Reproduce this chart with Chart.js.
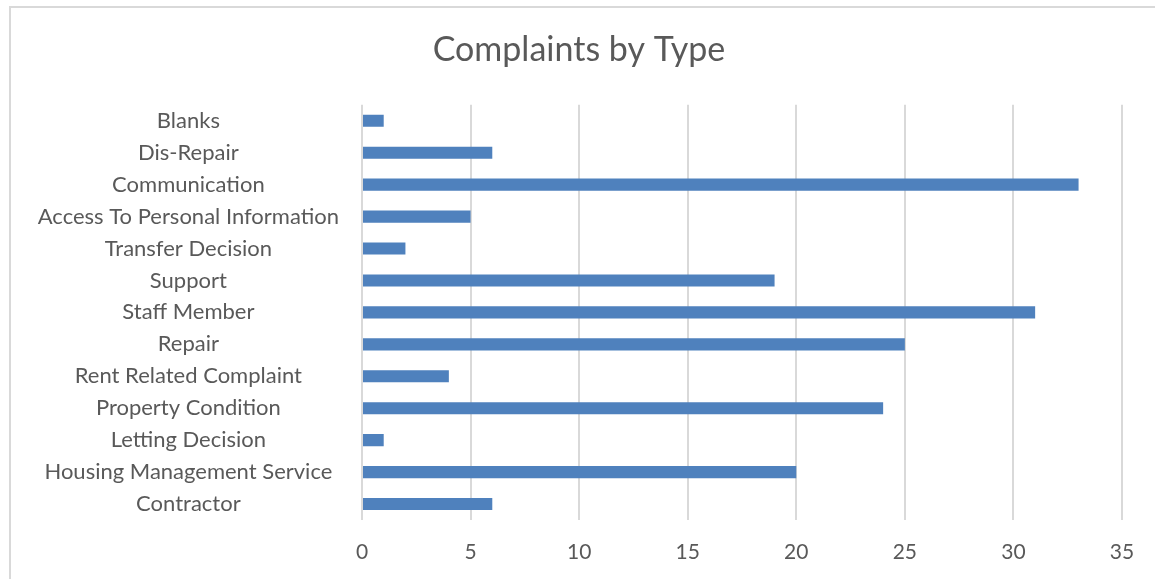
<!DOCTYPE html>
<html>
<head>
<meta charset="utf-8">
<script src="https://cdn.jsdelivr.net/npm/chart.js@4"></script>
<style>
  body { margin: 0; background: #fff; }
  #wrap { position: relative; width: 1155px; height: 579px; overflow: hidden; }
  #frame { position: absolute; left: 9px; top: 6px; width: 1300px; height: 700px; border: 2px solid #d9d9d9; box-sizing: border-box; pointer-events: none; }
  canvas { position: absolute; left: 0; top: 0; }
</style>
</head>
<body>
<div id="wrap">
  <canvas id="myChart" width="1155" height="579"></canvas>
  <div id="frame"></div>
</div>
<script>
// complaint types, top to bottom as shown
const categories = [
  'Blanks',
  'Dis-Repair',
  'Communication',
  'Access To Personal Information',
  'Transfer Decision',
  'Support',
  'Staff Member',
  'Repair',
  'Rent Related Complaint',
  'Property Condition',
  'Letting Decision',
  'Housing Management Service',
  'Contractor'
];
const complaints = [1, 6, 33, 5, 2, 19, 31, 25, 4, 24, 1, 20, 6];
const xTicks = [0, 5, 10, 15, 20, 25, 30, 35];

const fontFamily = 'Lato, "Open Sans", sans-serif';
const textColor = '#595959';

const myChart = document.getElementById('myChart');

let barChart = new Chart(myChart, {
  type: 'bar',
  data: {
    labels: categories,
    datasets: [{
      label: 'Complaints',
      data: complaints,
      backgroundColor: '#4f81bd',
      borderWidth: 0,
      barPercentage: 0.38,
      categoryPercentage: 1
    }]
  },
  options: {
    indexAxis: 'y',
    responsive: false,
    animation: false,
    layout: { padding: { left: 36, right: 33, top: 0, bottom: 0 } },
    plugins: {
      legend: { display: false },
      tooltip: { enabled: false },
      title: {
        display: true,
        text: 'Complaints by Type',
        color: textColor,
        font: { family: fontFamily, size: 34, weight: 'normal' },
        padding: { top: 30, bottom: 34 }
      }
    },
    scales: {
      x: {
        min: xTicks[0],
        max: xTicks[xTicks.length - 1],
        afterBuildTicks: scale => { scale.ticks = xTicks.map(v => ({ value: v })); },
        afterFit: scale => { scale.height = 59; },
        border: { display: false },
        grid: { color: '#d9d9d9', lineWidth: 2, drawTicks: false },
        ticks: {
          color: textColor,
          padding: 20,
          font: { family: fontFamily, size: 21 }
        }
      },
      y: {
        afterFit: scale => { scale.width = 326; },
        border: { display: false },
        grid: { display: false, drawTicks: false },
        ticks: {
          color: textColor,
          padding: 23,
          crossAlign: 'center',
          autoSkip: false,
          font: { family: fontFamily, size: 22 }
        }
      }
    }
  }
});
</script>
</body>
</html>
